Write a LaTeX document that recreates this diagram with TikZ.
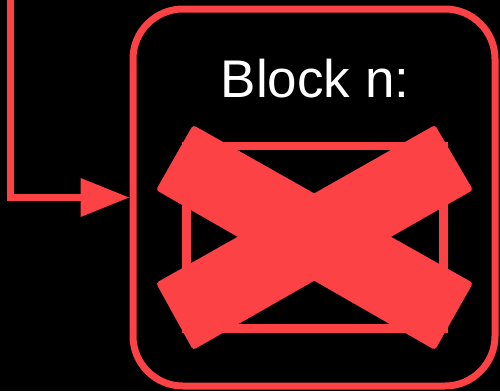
\documentclass[tikz,border=0pt]{standalone}
\usepackage{fontspec}
\setmainfont{Liberation Sans}
\usetikzlibrary{arrows.meta}
\definecolor{xred}{RGB}{252,66,68}
\begin{document}
\begin{tikzpicture}[x=1pt,y=-1pt,
  redline/.style={draw=xred, inner sep=0pt},
  crossbar/.style={fill=xred, rounded corners=3pt}]
\fill[black] (0,0) rectangle (500,391);
\useasboundingbox (0,0) rectangle (500,391);
\node[redline, line width=7pt, rounded corners=50pt, minimum width=362pt, minimum height=377pt] (block) at (314,197.5) {};
\node[text=white, font=\fontsize{53}{60}\selectfont, anchor=base] (title) at (315,97) {Block n:};
\node[redline, line width=8.5pt, minimum width=257pt, minimum height=182.5pt] (inner) at (315,237.25) {};
\fill[crossbar] (193,125) -- (473,283) -- (435,350) -- (156,190) -- cycle;
\fill[crossbar] (435,125) -- (473,190) -- (193,350) -- (156,283) -- cycle;
\coordinate (src) at (10.5,-5);
\draw[xred, line width=7pt, -{Triangle[length=49pt,width=37pt]}] (src) |- (block.west);
\end{tikzpicture}
\end{document}
